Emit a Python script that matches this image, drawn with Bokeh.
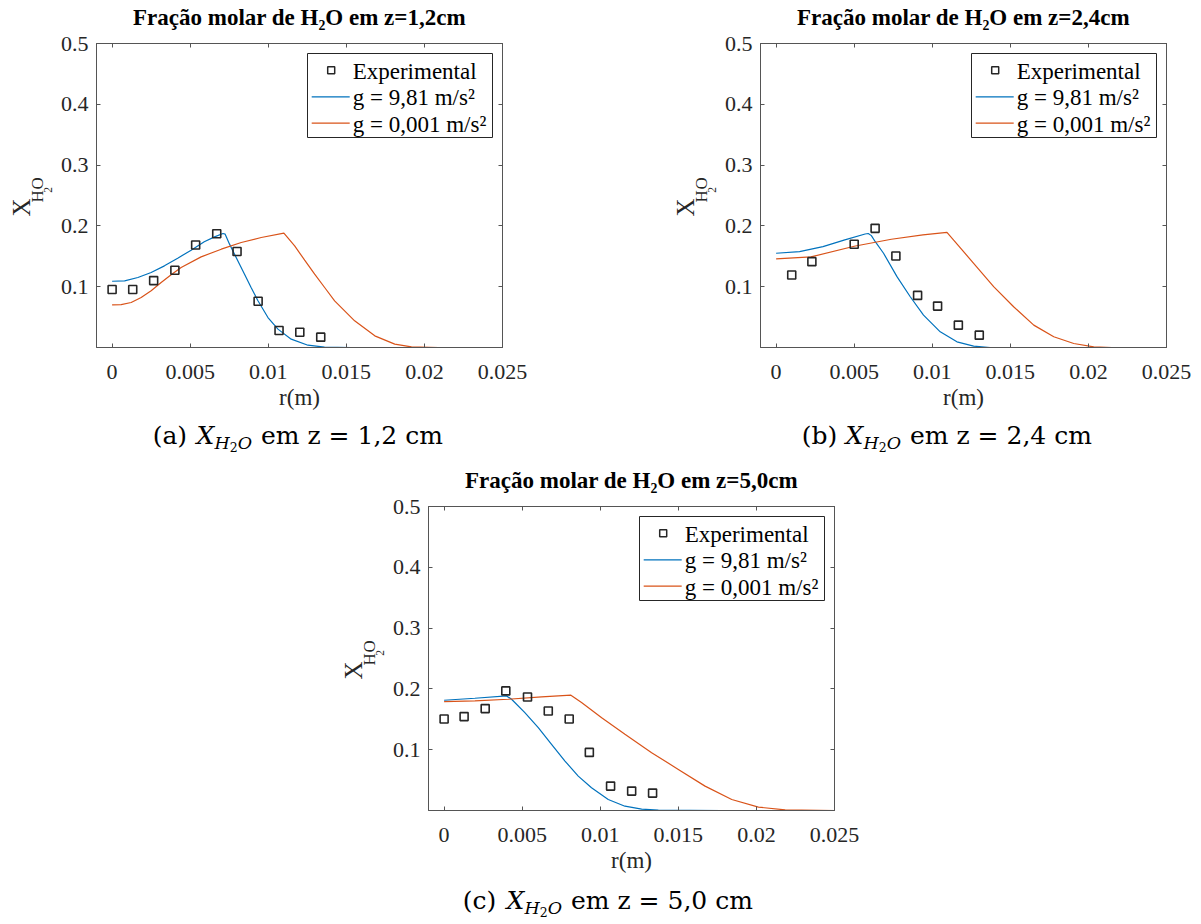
import math
from bokeh.plotting import figure
from bokeh.models import (Range1d, FixedTicker, CustomJSTickFormatter, LinearAxis, Label,
                          BoxAnnotation)
from bokeh.core.properties import value
from bokeh.layouts import column, row
from bokeh.embed import file_html
from bokeh.resources import INLINE

# ---------------- data ----------------
x_ticks = [0, 0.005, 0.01, 0.015, 0.02, 0.025]
y_ticks = [0.1, 0.2, 0.3, 0.4, 0.5]
legend_labels = ["Experimental", "g = 9,81 m/s²", "g = 0,001 m/s²"]
titles = ["Fração molar de H₂O em z=1,2cm", "Fração molar de H₂O em z=2,4cm",
          "Fração molar de H₂O em z=5,0cm"]
caption_letters = ["(a)", "(b)", "(c)"]
caption_tails = ["em z = 1,2 cm", "em z = 2,4 cm", "em z = 5,0 cm"]
x_label = "r(m)"

# (a) z = 1,2 cm
a_exp_r = [0.0, 0.00132, 0.00266, 0.00402, 0.00535, 0.0067, 0.008, 0.00935, 0.01069, 0.01202, 0.01336]
a_exp_x = [0.0955, 0.0955, 0.110, 0.127, 0.1685, 0.187, 0.158, 0.076, 0.028, 0.025, 0.017]
a_g981_r = [0, 0.0008, 0.00165, 0.0025, 0.00335, 0.0042, 0.00506, 0.0059, 0.00656, 0.0071, 0.00724,
            0.00752, 0.00784, 0.00816, 0.00848, 0.0089, 0.00934, 0.00998, 0.01062, 0.01147, 0.01254,
            0.0136, 0.0153]
a_g981_x = [0.109, 0.1096, 0.1151, 0.1234, 0.1343, 0.1469, 0.1601, 0.1738, 0.182, 0.1875, 0.1864,
            0.170, 0.1535, 0.137, 0.1206, 0.0987, 0.0768, 0.0493, 0.0302, 0.0137, 0.0038,
            0.0005, 0.0]
a_g0001_r = [0, 0.00058, 0.00122, 0.00186, 0.0025, 0.00314, 0.00378, 0.00442, 0.0057, 0.00699,
             0.00827, 0.00955, 0.011, 0.01169, 0.01233, 0.01297, 0.01361, 0.01425, 0.01553,
             0.01682, 0.0181, 0.01917, 0.0209]
a_g0001_x = [0.070, 0.0705, 0.074, 0.0822, 0.0932, 0.1069, 0.1195, 0.1316, 0.1491, 0.1617,
             0.1727, 0.1809, 0.188, 0.1672, 0.1436, 0.1206, 0.0987, 0.0768, 0.0439,
             0.0192, 0.0055, 0.0011, 0.0]

# (b) z = 2,4 cm
b_exp_r = [0.001, 0.00229, 0.005, 0.00634, 0.00767, 0.00906, 0.01034, 0.01167, 0.01301]
b_exp_x = [0.1192, 0.1412, 0.1698, 0.196, 0.1505, 0.0857, 0.0681, 0.0368, 0.0203]
b_g981_r = [0, 0.0015, 0.003, 0.0044, 0.0057, 0.0059, 0.0061, 0.00635, 0.00688, 0.00774,
            0.00859, 0.00944, 0.01051, 0.01158, 0.01265, 0.0137, 0.0155]
b_g981_x = [0.155, 0.1577, 0.166, 0.177, 0.1867, 0.1875, 0.184, 0.174, 0.155, 0.1165,
            0.0835, 0.0533, 0.0258, 0.0093, 0.0022, 0.0, 0.0]
b_g0001_r = [0, 0.00223, 0.005, 0.00738, 0.0094, 0.01094, 0.01137, 0.01265, 0.01393, 0.01521,
             0.0165, 0.01778, 0.01906, 0.02034, 0.0215, 0.0244]
b_g0001_x = [0.1457, 0.149, 0.1665, 0.178, 0.1852, 0.1895, 0.1765, 0.1385, 0.1, 0.067,
             0.0368, 0.0176, 0.0066, 0.001, 0.0, 0.0]

# (c) z = 5,0 cm
c_exp_r = [0, 0.00128, 0.00263, 0.00395, 0.00534, 0.00667, 0.00801, 0.0093, 0.01066, 0.01201, 0.01335]
c_exp_x = [0.1505, 0.1544, 0.1676, 0.1967, 0.1868, 0.1637, 0.1505, 0.0956, 0.0401, 0.0319, 0.0286]
c_g981_r = [0, 0.00197, 0.004, 0.00432, 0.00517, 0.00603, 0.00688, 0.00774, 0.00859, 0.00944,
            0.01051, 0.01158, 0.01265, 0.01372, 0.01778]
c_g981_x = [0.1813, 0.1846, 0.1885, 0.183, 0.161, 0.1363, 0.1088, 0.0813, 0.0566, 0.0374,
            0.0181, 0.0071, 0.0022, 0.0005, 0.0]
c_g0001_r = [0, 0.00197, 0.0041, 0.00624, 0.00812, 0.0088, 0.01009, 0.01158, 0.01329, 0.015,
             0.01671, 0.01842, 0.02013, 0.02184, 0.025]
c_g0001_x = [0.1791, 0.1802, 0.183, 0.1868, 0.1896, 0.1775, 0.1527, 0.1253, 0.0951, 0.0676,
             0.0401, 0.0181, 0.0055, 0.0011, 0.0]

# ---------------- style ----------------
SERIF = "Liberation Serif"
CAPF = "DejaVu Serif"
AXC = "#555555"
TXT = "#262626"
BLUE = "#0072BD"
ORANGE = "#D95319"
FW, FH = 406, 304
BT, BB, BL = 43, 72, 40          # plot borders (top, bottom, left)
PH = BT + FH + BB


def lab(p, x, y, text, size, style="normal", align="left", font=SERIF, color="#000000"):
    # y is the vertical middle of the text (screen units, from frame bottom)
    p.add_layout(Label(x=x, y=y, x_units="screen", y_units="screen", text=text,
                       text_font=font, text_font_size=f"{size}px", text_font_style=style,
                       text_align=align, text_baseline="middle", text_color=color))


def box(p, l, r, b, t, fill=None, line=None, lw=1.0):
    p.add_layout(BoxAnnotation(left=l, right=r, bottom=b, top=t,
                               left_units="screen", right_units="screen",
                               bottom_units="screen", top_units="screen",
                               fill_color=fill, fill_alpha=1.0 if fill else 0.0,
                               line_color=line, line_width=lw, line_alpha=1.0 if line else 0.0))


def mid(base, size):
    return base + 0.34 * size


def tfig(w, h):
    f = figure(width=w, height=h, x_range=Range1d(0, w), y_range=Range1d(0, h),
               output_backend="svg", toolbar_location=None, min_border=0,
               x_axis_type=None, y_axis_type=None)
    f.outline_line_color = None
    f.grid.visible = False
    return f


def plot_fig(exp_r, exp_x, b_r, b_x, o_r, o_x, W, br, idx):
    p = figure(width=W, height=PH, x_range=Range1d(-0.001, 0.025), y_range=Range1d(0, 0.5),
               output_backend="svg", toolbar_location=None,
               min_border_left=BL, min_border_right=br, min_border_top=BT, min_border_bottom=BB)
    p.grid.visible = False
    p.outline_line_color = AXC
    p.outline_line_width = 1
    p.add_layout(LinearAxis(), "above")
    p.add_layout(LinearAxis(), "right")
    fmt = "return String(parseFloat(tick.toFixed(4)))"
    for ax in p.xaxis:
        ax.ticker = FixedTicker(ticks=x_ticks)
    for ax in p.yaxis:
        ax.ticker = FixedTicker(ticks=y_ticks)
    for ax in p.axis:
        ax.axis_line_color = AXC
        ax.major_tick_line_color = AXC
        ax.major_tick_in = 4
        ax.major_tick_out = 0
        ax.minor_tick_line_color = None
        ax.major_label_text_font = SERIF
        ax.major_label_text_font_size = "22px"
        ax.major_label_text_color = TXT
        ax.formatter = CustomJSTickFormatter(code=fmt)
    xb = p.below[0]
    xb.major_label_standoff = 17
    xb.axis_label = x_label
    xb.axis_label_text_font = SERIF
    xb.axis_label_text_font_size = "23px"
    xb.axis_label_text_font_style = "normal"
    xb.axis_label_text_color = TXT
    xb.axis_label_standoff = 3
    p.left[0].major_label_standoff = 8
    for ax in (p.above[0], p.right[0]):
        ax.formatter = CustomJSTickFormatter(code="return ''")
        ax.major_label_text_font_size = "1px"
        ax.major_label_standoff = 0
    xt = p.above[0]
    xt.axis_label = titles[idx]
    xt.axis_label_text_font = SERIF
    xt.axis_label_text_font_size = "23px"
    xt.axis_label_text_font_style = "bold"
    xt.axis_label_text_color = "#000000"
    xt.axis_label_standoff = 14

    p.line(b_r, b_x, line_color=BLUE, line_width=1.2)
    p.line(o_r, o_x, line_color=ORANGE, line_width=1.2)
    p.scatter(exp_r, exp_x, marker="square", size=8, fill_color=None,
              line_color=TXT, line_width=1.6)

    # legend (top-right, boxed)
    L, R, T = FW - 10 - 185, FW - 10, FH - 10
    B = T - 84
    box(p, L, R, B, T, fill="white", line=TXT, lw=1)
    rows = [T - 16.7, T - 43.4, T - 69.7]
    mx = L + 23.7
    box(p, mx - 3.5, mx + 3.5, rows[0] - 3.5, rows[0] + 3.5, fill=None, line=TXT, lw=1.5)
    box(p, L + 4.2, L + 42.2, rows[1] - 0.6, rows[1] + 0.6, fill=BLUE)
    box(p, L + 4.2, L + 42.2, rows[2] - 0.6, rows[2] + 0.6, fill=ORANGE)
    for k in range(3):
        lab(p, L + 45.2, rows[k] - 1, legend_labels[k], 23, "normal", "left")
    return p


def ylab_fig(w, fl):
    # fl: x of the plot frame's left edge in this figure's coordinates
    t = tfig(w, PH)
    A = math.pi / 2
    pieces = [("X", 25, -75.5, 121.0), ("H", 17, -58.8, 136.2),
              ("2", 11.5, -48.7, 145.2), ("O", 17, -58.8, 154.2)]
    for txt, sz, dx, dy in pieces:
        t.text(x=[fl + dx], y=[BB + dy], text=[txt], angle=A,
               text_align="center", text_baseline="middle",
               text_font=value(SERIF), text_font_size=value(f"{sz}px"), text_color=TXT)
    return t


def cap_fig(w, h, cx, base, idx):
    t = tfig(w, h)
    f, fs, fss = 25, 17.5, 12.5
    gap = 0.38 * f
    wA = 1.376 * f
    wX = 0.72 * f
    wH = 0.872 * fs
    w2 = 0.636 * fss
    wO = 0.787 * fs
    wT = 7.573 * f
    tot = wA + gap + wX + wH + w2 + wO + gap + wT
    x = cx - tot / 2
    lab(t, x, mid(base, f), caption_letters[idx], f, "normal", "left", font=CAPF)
    x += wA + gap
    lab(t, x, mid(base, f), "X", f, "italic", "left", font=CAPF)
    x += wX
    lab(t, x, mid(base - 5, fs), "H", fs, "italic", "left", font=CAPF)
    x += wH
    lab(t, x, mid(base - 8, fss), "2", fss, "normal", "left", font=CAPF)
    x += w2
    lab(t, x, mid(base - 5, fs), "O", fs, "italic", "left", font=CAPF)
    x += wO + gap
    lab(t, x, mid(base, f), caption_tails[idx], f, "normal", "left", font=CAPF)
    return t


p1 = plot_fig(a_exp_r, a_exp_x, a_g981_r, a_g981_x, a_g0001_r, a_g0001_x, 552, 106, 0)
p2 = plot_fig(b_exp_r, b_exp_x, b_g981_r, b_g981_x, b_g0001_r, b_g0001_x, 473, 27, 1)
p3 = plot_fig(c_exp_r, c_exp_x, c_g981_r, c_g981_x, c_g0001_r, c_g0001_x, 805, 359, 2)

# page rows: plots 0..419, captions 419..463 ; plot 463..882, caption 882..922
top_row = column(
    row(ylab_fig(56, 56 + BL), p1, ylab_fig(112, 112 + BL), p2),
    row(cap_fig(608, 44, 301, 463 - 443, 0), cap_fig(585, 44, 342, 463 - 443, 1)),
)
bottom = column(
    row(ylab_fig(388, 388 + BL), p3),
    cap_fig(1193, 40, 611, 922 - 908, 2),
)
layout = column(top_row, bottom)
open("out.html", "w").write(file_html(layout, INLINE))
